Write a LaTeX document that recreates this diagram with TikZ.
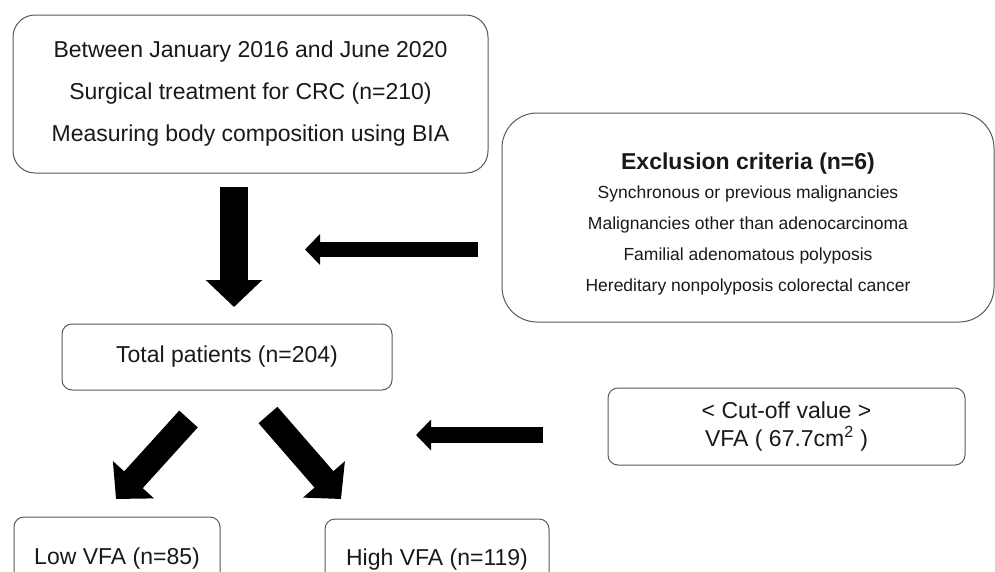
\documentclass[tikz,border=0pt]{standalone}
\usepackage{fontspec}
\setmainfont{Liberation Sans}
\usetikzlibrary{arrows.meta}

\begin{document}
\begin{tikzpicture}[x=1pt,y=-1pt,
    box/.style={draw=black!65, line width=1pt, rounded corners=10pt, text=black!90, align=center, inner sep=0pt},
    bigarrow/.style={line width=28pt, -{Triangle[length=27pt,width=55pt]}},
    diagarrow/.style={line width=25pt, -{Triangle[length=26pt,width=54pt]}},
    sidearrow/.style={line width=15pt, -{Triangle[length=15pt,width=30pt]}}]
          \useasboundingbox (0,0) rectangle (995,571);
          \clip (0,0) rectangle (995,571);
          % Study period box
          \node[box, rounded corners=22pt, minimum width=475pt, minimum height=158pt,
                font=\fontsize{23}{42}\selectfont] (period) at (250.5,94)
                {Between January 2016 and June 2020\\Surgical treatment for CRC (n=210)\\Measuring body composition using BIA};
          % Exclusion box
          \node[box, rounded corners=35pt, minimum width=492pt, minimum height=209pt,
                font=\fontsize{17.5}{31}\selectfont] (excl) at (748,217.5)
                {{\fontsize{23}{28}\selectfont\bfseries\rule{0pt}{30pt}Exclusion criteria (n=6)}\\[-2pt]
                 Synchronous or previous malignancies\\Malignancies other than adenocarcinoma\\
                 Familial adenomatous polyposis\\Hereditary nonpolyposis colorectal cancer};
          % Total patients
          \node[box, minimum width=330pt, minimum height=66pt, font=\fontsize{23}{28}\selectfont]
                (total) at (227,357) {Total patients (n=204)};
          % Cut-off box
          \node[box, minimum width=357pt, minimum height=77pt, font=\fontsize{23}{28}\selectfont]
                (cutoff) at (786.5,426.5) {< Cut-off value >\\VFA ( 67.7cm\textsuperscript{2} )};
          % Groups
          \node[box, minimum width=206pt, minimum height=83pt, font=\fontsize{23}{28}\selectfont]
                (lowvfa) at (117,558.5) {Low VFA (n=85)};
          \node[box, minimum width=224pt, minimum height=81pt, font=\fontsize{23}{28}\selectfont]
                (highvfa) at (437,559.5) {High VFA (n=119)};
          % Arrow ends
          \coordinate (down1) at (234,187);
          \coordinate (down2) at (234,307);
          \coordinate (excl1) at (478,249.5);
          \coordinate (excl2) at (305,249.5);
          \coordinate (low1) at (188.5,419);
          \coordinate (low2) at (116,499);
          \coordinate (high1) at (268,415);
          \coordinate (high2) at (341,499);
          \coordinate (cut1) at (543,435);
          \coordinate (cut2) at (416,435);
          % Draw arrows
          \draw[bigarrow] (down1) -- (down2);
          \draw[sidearrow] (excl1) -- (excl2);
          \draw[diagarrow] (low1) -- (low2);
          \draw[diagarrow] (high1) -- (high2);
          \draw[sidearrow, line width=16pt] (cut1) -- (cut2);
        \end{tikzpicture}
\end{document}
